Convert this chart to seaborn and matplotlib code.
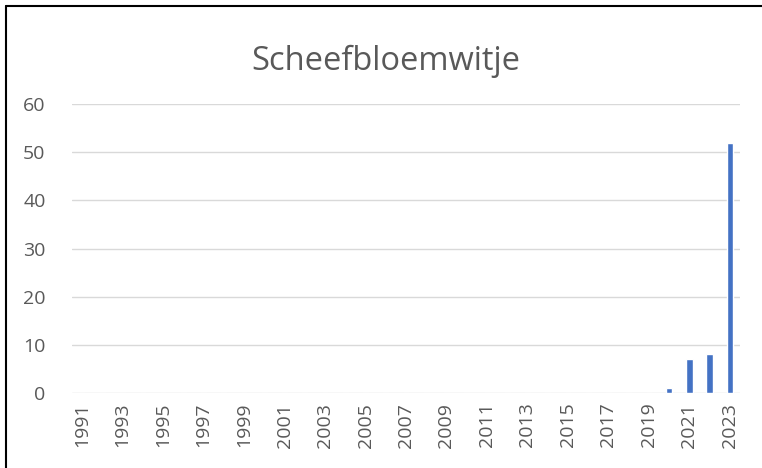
import matplotlib
matplotlib.use("Agg")
import matplotlib.pyplot as plt
import seaborn as sns
import pandas as pd
from matplotlib.lines import Line2D

jaren = [str(j) for j in range(1991, 2024)]
aantallen = [0] * 29 + [1, 7, 8, 52]
titel = "Scheefbloemwitje"

df = pd.DataFrame({"jaar": jaren, "aantal": aantallen})

sns.set_theme(style="white")
plt.rcParams["font.family"] = ["Open Sans", "DejaVu Sans"]

fig = plt.figure(figsize=(7.62, 4.68), dpi=100)
ax = fig.add_axes([72 / 762, 1 - 393 / 468, 668 / 762, 289 / 468])

sns.barplot(data=df, x="jaar", y="aantal", color="#4472C4", width=0.33,
            saturation=1, ax=ax)

ax.set_ylim(0, 60)
ax.set_yticks(range(0, 61, 10))
ax.yaxis.grid(True, color="#D9D9D9", linewidth=1)
ax.set_axisbelow(True)
for s in ax.spines.values():
    s.set_visible(False)
ax.set_xlabel("")
ax.set_ylabel("")
ax.set_xticks(range(0, len(jaren), 2))
ax.set_xticklabels(jaren[::2], rotation=90)
ax.tick_params(axis="both", colors="#595959", labelsize=14, length=0)
ax.tick_params(axis="y", pad=19)
ax.tick_params(axis="x", pad=7)

fig.text(386 / 762, 1 - 61 / 468, titel, ha="center", va="center",
         fontsize=23.5, color="#595959")

# rand van de grafiek (alleen links en boven zichtbaar)
fig.add_artist(Line2D([6 / 762, 6 / 762], [0, 1 - 6 / 468], color="black", linewidth=1.5))
fig.add_artist(Line2D([6 / 762, 1], [1 - 6 / 468, 1 - 6 / 468], color="black", linewidth=1.5))

fig.savefig("out.png", dpi=100)
